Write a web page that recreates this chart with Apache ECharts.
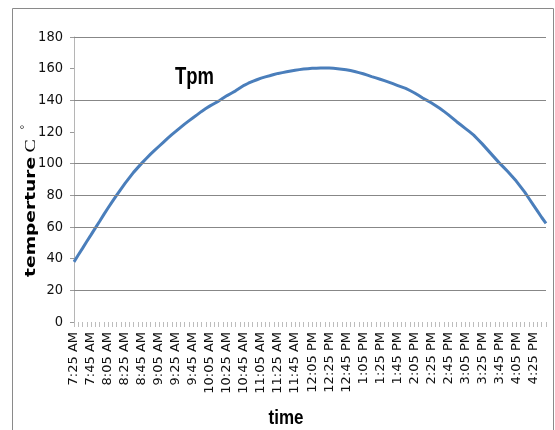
<!DOCTYPE html>
<html>
<head>
<meta charset="utf-8">
<script src="https://cdn.jsdelivr.net/npm/echarts@6/dist/echarts.min.js"></script>
<style>
html,body{margin:0;padding:0;background:#fff;}
#chart{width:555px;height:430px;}
</style>
</head>
<body>
<div id="chart"></div>
<script>
// ---- data ----
const startTime = '7:25 AM';
const stepMinutes = 5;
// temperature (°C), one reading every 5 minutes from 7:25 AM to 4:40 PM
const tpm = [
  38, 42.3, 46.5, 50.8, 55, 59.3, 63.5, 67.8, 72, 76,
  80, 83.8, 87.5, 91, 94.5, 97.5, 100.5, 103.3, 106, 108.5,
  111, 113.5, 116, 118.3, 120.5, 122.8, 125, 127, 129, 131,
  133, 134.8, 136.5, 138, 139.5, 141.3, 143, 144.5, 146, 147.8,
  149.5, 150.8, 152, 153, 154, 154.8, 155.5, 156.3, 157, 157.5,
  158, 158.5, 159, 159.4, 159.8, 160, 160.2, 160.3, 160.4, 160.4,
  160.4, 160.2, 160, 159.7, 159.3, 158.8, 158.2, 157.5, 156.8, 155.9,
  155, 154.2, 153.3, 152.4, 151.5, 150.5, 149.5, 148.5, 147.5, 146.2,
  144.8, 143.2, 141.5, 140, 138.5, 136.8, 135, 133, 131, 128.8,
  126.5, 124.4, 122.3, 120.2, 118, 115.3, 112.5, 109.5, 106.5, 103.5,
  100.5, 97.8, 95, 92, 89, 85.5, 82, 78, 74, 70,
  66, 62.3
];
const yTicks = [0, 20, 40, 60, 80, 100, 120, 140, 160, 180];
const visibleGridValues = [180, 140, 100, 80, 60, 20];
const seriesName = 'Tpm';
const xTitle = 'time';
const yTitle = 'temperture';

// category labels (clock times)
function parseTime(s){
  const m = s.match(/(\d+):(\d+)\s*(AM|PM)/);
  let h = +m[1] % 12; if (m[3] === 'PM') h += 12;
  return h * 60 + (+m[2]);
}
function fmtTime(mins){
  const h = Math.floor(mins / 60), mm = mins % 60;
  const ap = h >= 12 ? 'PM' : 'AM';
  const h12 = (h % 12) || 12;
  return h12 + ':' + (mm < 10 ? '0' : '') + mm + ' ' + ap;
}
const t0 = parseTime(startTime);
const categories = tpm.map((_, i) => fmtTime(t0 + i * stepMinutes));

const chart = echarts.init(document.getElementById('chart'), null, {renderer: 'canvas'});
const narrow = "'Liberation Sans Narrow', 'DejaVu Sans Condensed', 'Liberation Sans', sans-serif";

chart.setOption({
  animation: false,
  backgroundColor: '#fff',
  grid: {left: 74, right: 9, top: 37, bottom: 108, containLabel: false},
  xAxis: {
    type: 'category',
    data: categories,
    boundaryGap: false,
    axisLine: {show: false},
    axisTick: {show: true, interval: 0, length: 5, lineStyle: {color: '#bdbdbd', width: 1}},
    axisLabel: {
      interval: 3, rotate: 90, margin: 10,
      fontFamily: "'DejaVu Sans', sans-serif", fontSize: 13, color: '#111'
    },
    splitLine: {show: false}
  },
  yAxis: {
    type: 'value',
    min: yTicks[0], max: yTicks[yTicks.length - 1], interval: 20,
    axisLine: {show: true, lineStyle: {color: '#b5b5b5', width: 1}},
    axisTick: {show: true, length: 4, lineStyle: {color: '#9a9a9a'}},
    axisLabel: {margin: 11, fontFamily: narrow, fontSize: 14.5, color: '#111'},
    splitLine: {show: false}
  },
  series: [{
    name: seriesName,
    type: 'line',
    data: tpm,
    symbol: 'none',
    smooth: false,
    lineStyle: {color: '#4a7ebb', width: 3},
    markLine: {
      silent: true, symbol: 'none', animation: false,
      label: {show: false},
      lineStyle: {color: '#878787', width: 1, type: 'solid'},
      data: visibleGridValues.map(v => ({yAxis: v}))
    },
    z: 3
  }],
  graphic: [
    {type: 'rect', silent: true, z: -1,
     shape: {x: 12.5, y: 8.5, width: 541, height: 440},
     style: {fill: 'none', stroke: '#8a8a8a', lineWidth: 1}},
    {type: 'text', x: 175, y: 77, scaleY: 1.3,
     style: {text: seriesName, font: "bold 18.5px 'Liberation Sans', Arial, sans-serif",
             fill: '#000', textAlign: 'left', textVerticalAlign: 'middle'}},
    {type: 'text', x: 286, y: 419, scaleY: 1.15,
     style: {text: xTitle, font: "bold 17px 'Liberation Sans', Arial, sans-serif",
             fill: '#000', textAlign: 'center', textVerticalAlign: 'middle'}},
    {type: 'text', x: 31.5, y: 208, rotation: Math.PI / 2, scaleX: 1.33,
     style: {text: '{a|' + yTitle + '} {b|C}',
             rich: {
               a: {font: "bold 14px 'DejaVu Sans', Verdana, sans-serif", fill: '#000'},
               b: {font: "15px 'Liberation Serif', 'Times New Roman', serif", fill: '#000'}
             },
             textAlign: 'center', textVerticalAlign: 'middle'}},
    {type: 'text', x: 25.5, y: 127, rotation: Math.PI / 2,
     style: {text: '°', font: "11px 'Liberation Serif', serif", fill: '#000',
             textAlign: 'center', textVerticalAlign: 'middle'}}
  ]
});
</script>
</body>
</html>
